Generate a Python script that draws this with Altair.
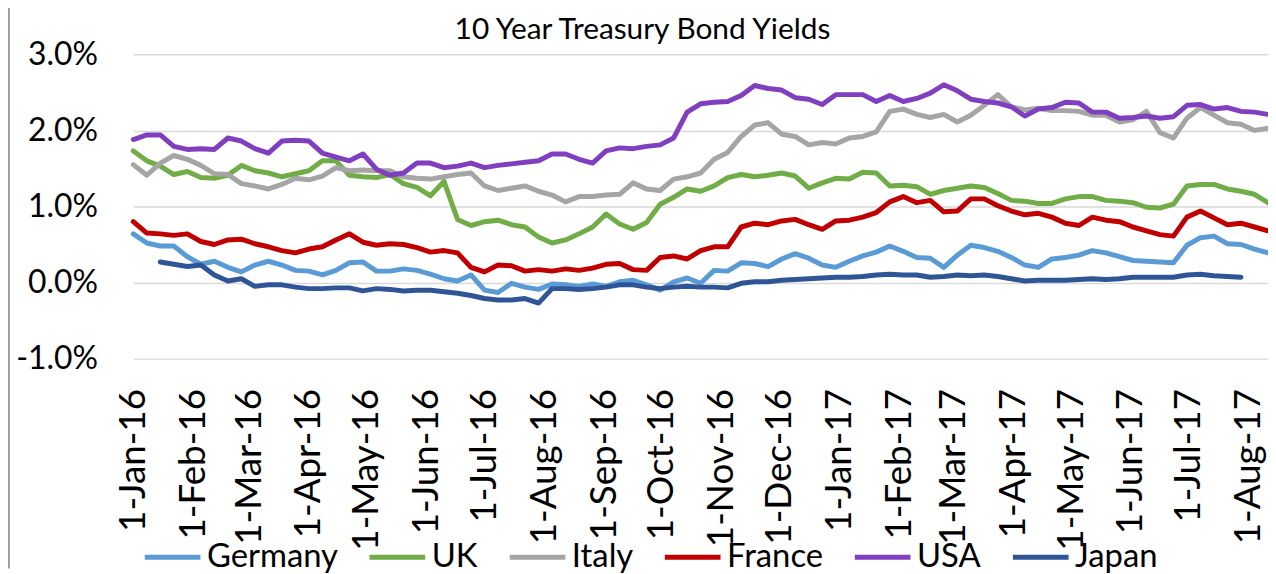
import altair as alt
import pandas as pd

# weekly sample dates (every 7 days from 1-Jan-2016)
dates = pd.date_range("2016-01-01", periods=85, freq="7D").strftime("%Y-%m-%d").tolist()

chart_title = "10 Year Treasury Bond Yields"
series_names = ["Germany", "UK", "Italy", "France", "USA", "Japan"]
series_colors = ["#5B9BD5", "#70AD47", "#A5A5A5", "#C00000", "#7F3FBF", "#2F5597"]

germany = [0.64, 0.52, 0.48, 0.48, 0.34, 0.24, 0.28, 0.20, 0.14, 0.23,
           0.28, 0.23, 0.16, 0.15, 0.10, 0.16, 0.26, 0.27, 0.15, 0.15,
           0.18, 0.16, 0.11, 0.05, 0.02, 0.10, -0.10, -0.13, -0.01, -0.06,
           -0.09, -0.02, -0.03, -0.05, -0.02, -0.05, 0.01, 0.03, -0.03, -0.10,
           0.01, 0.06, -0.01, 0.16, 0.15, 0.26, 0.25, 0.21, 0.31, 0.38,
           0.32, 0.23, 0.20, 0.28, 0.35, 0.40, 0.48, 0.41, 0.33, 0.32,
           0.20, 0.36, 0.49, 0.46, 0.41, 0.33, 0.23, 0.20, 0.31, 0.33,
           0.36, 0.42, 0.39, 0.34, 0.29, 0.28, 0.27, 0.26, 0.49, 0.59,
           0.61, 0.51, 0.50, 0.44, 0.39]
uk = [1.73, 1.60, 1.53, 1.42, 1.46, 1.38, 1.37, 1.41, 1.54, 1.47,
      1.44, 1.39, 1.43, 1.47, 1.60, 1.60, 1.41, 1.39, 1.38, 1.42,
      1.30, 1.25, 1.14, 1.33, 0.83, 0.75, 0.80, 0.82, 0.76, 0.73,
      0.60, 0.52, 0.56, 0.64, 0.73, 0.90, 0.77, 0.70, 0.79, 1.03,
      1.12, 1.23, 1.20, 1.27, 1.38, 1.42, 1.39, 1.41, 1.44, 1.40,
      1.24, 1.31, 1.37, 1.36, 1.45, 1.44, 1.27, 1.28, 1.26, 1.16,
      1.21, 1.24, 1.27, 1.25, 1.17, 1.08, 1.07, 1.04, 1.04, 1.10,
      1.13, 1.13, 1.08, 1.07, 1.05, 0.99, 0.98, 1.03, 1.27, 1.29,
      1.29, 1.23, 1.20, 1.16, 1.05]
italy = [1.55, 1.41, 1.57, 1.67, 1.62, 1.54, 1.43, 1.42, 1.30, 1.27,
         1.23, 1.29, 1.37, 1.35, 1.40, 1.51, 1.47, 1.48, 1.47, 1.47,
         1.39, 1.37, 1.36, 1.39, 1.42, 1.44, 1.27, 1.21, 1.24, 1.27,
         1.20, 1.15, 1.06, 1.13, 1.13, 1.15, 1.16, 1.31, 1.23, 1.21,
         1.36, 1.39, 1.44, 1.62, 1.71, 1.92, 2.07, 2.10, 1.95, 1.92,
         1.81, 1.84, 1.82, 1.90, 1.92, 1.98, 2.25, 2.28, 2.21, 2.17,
         2.21, 2.11, 2.20, 2.33, 2.47, 2.31, 2.27, 2.29, 2.26, 2.26,
         2.25, 2.20, 2.20, 2.11, 2.14, 2.25, 1.97, 1.90, 2.16, 2.30,
         2.20, 2.10, 2.08, 2.00, 2.03]
france = [0.80, 0.65, 0.64, 0.62, 0.64, 0.54, 0.50, 0.56, 0.57, 0.51,
          0.47, 0.42, 0.39, 0.44, 0.47, 0.56, 0.64, 0.53, 0.49, 0.51,
          0.50, 0.46, 0.40, 0.42, 0.39, 0.20, 0.14, 0.23, 0.22, 0.15,
          0.17, 0.15, 0.18, 0.16, 0.19, 0.24, 0.25, 0.17, 0.16, 0.33,
          0.35, 0.31, 0.42, 0.47, 0.47, 0.73, 0.78, 0.76, 0.81, 0.83,
          0.76, 0.70, 0.81, 0.82, 0.86, 0.92, 1.06, 1.13, 1.05, 1.08,
          0.93, 0.94, 1.10, 1.10, 1.01, 0.94, 0.89, 0.91, 0.86, 0.78,
          0.75, 0.86, 0.82, 0.80, 0.73, 0.68, 0.63, 0.61, 0.86, 0.94,
          0.85, 0.76, 0.78, 0.73, 0.68]
usa = [1.88, 1.94, 1.94, 1.79, 1.75, 1.76, 1.75, 1.90, 1.86, 1.76,
       1.70, 1.86, 1.87, 1.86, 1.70, 1.65, 1.60, 1.69, 1.49, 1.41,
       1.44, 1.57, 1.57, 1.51, 1.53, 1.57, 1.51, 1.54, 1.56, 1.58,
       1.60, 1.69, 1.69, 1.62, 1.57, 1.73, 1.77, 1.76, 1.79, 1.81,
       1.90, 2.24, 2.35, 2.37, 2.38, 2.46, 2.59, 2.55, 2.53, 2.43,
       2.41, 2.34, 2.47, 2.47, 2.47, 2.38, 2.46, 2.38, 2.42, 2.49,
       2.60, 2.52, 2.41, 2.38, 2.36, 2.31, 2.19, 2.28, 2.30, 2.37,
       2.36, 2.24, 2.24, 2.16, 2.17, 2.19, 2.16, 2.18, 2.33, 2.34,
       2.28, 2.30, 2.25, 2.24, 2.21]
japan = [None, None, 0.27, 0.24, 0.21, 0.23, 0.10, 0.02, 0.05, -0.05,
         -0.03, -0.03, -0.06, -0.08, -0.08, -0.07, -0.07, -0.11, -0.08, -0.09,
         -0.11, -0.10, -0.10, -0.12, -0.14, -0.17, -0.21, -0.23, -0.23, -0.21,
         -0.27, -0.08, -0.08, -0.09, -0.08, -0.06, -0.03, -0.03, -0.06, -0.08,
         -0.06, -0.05, -0.06, -0.06, -0.07, -0.01, 0.01, 0.01, 0.03, 0.04,
         0.05, 0.06, 0.07, 0.07, 0.08, 0.10, 0.11, 0.10, 0.10, 0.07,
         0.08, 0.10, 0.09, 0.10, 0.08, 0.05, 0.02, 0.03, 0.03, 0.03,
         0.04, 0.05, 0.04, 0.05, 0.07, 0.07, 0.07, 0.07, 0.10, 0.11,
         0.09, 0.08, 0.07, None, None]

tick_months = [(2016, m) for m in range(1, 13)] + [(2017, m) for m in range(1, 9)]
y_ticks = [-1, 0, 1, 2, 3]

values_by_series = [germany, uk, italy, france, usa, japan]
rows = []
for name, vals in zip(series_names, values_by_series):
    for d, v in zip(dates, vals):
        if v is not None:
            rows.append({"date": d, "series": name, "value": v})
df = pd.DataFrame(rows)

FONT = "Lato"

lines = alt.Chart(df).mark_line(strokeWidth=5, strokeJoin="round", strokeCap="round").encode(
    x=alt.X(
        "date:T",
        scale=alt.Scale(
            type="utc",
            domain=[alt.DateTime(year=2016, month=1, date=1, utc=True),
                    alt.DateTime(year=2017, month=8, date=11, utc=True)],
        ),
        axis=alt.Axis(
            title=None,
            values=[alt.DateTime(year=y, month=m, date=1, utc=True) for y, m in tick_months],
            labelExpr="utcFormat(datum.value, '%-d-%b-%y')",
            labelAngle=270,
            labelFont=FONT,
            labelFontSize=37,
            labelColor="#000000",
            labelPadding=30,
            labelOverlap=False,
            labelFlush=False,
            domain=False,
            ticks=False,
            grid=False,
        ),
    ),
    y=alt.Y(
        "value:Q",
        scale=alt.Scale(domain=[-1, 3], nice=False, zero=False),
        axis=alt.Axis(
            title=None,
            values=y_ticks,
            labelExpr="(datum.value < 0 ? '-' : '') + format(abs(datum.value), '.1f') + '%'",
            labelFont=FONT,
            labelFontSize=32,
            labelColor="#000000",
            labelPadding=36,
            domain=False,
            ticks=False,
            grid=True,
            gridColor="#D9D9D9",
            gridWidth=1.5,
        ),
    ),
    color=alt.Color(
        "series:N",
        sort=series_names,
        scale=alt.Scale(domain=series_names, range=series_colors),
        legend=alt.Legend(
            title=None,
            orient="none",
            direction="horizontal",
            legendX=9,
            legendY=475,
            symbolType="stroke",
            symbolSize=3136,
            symbolStrokeWidth=5,
            labelFont=FONT,
            labelFontSize=33,
            labelColor="#000000",
            labelOffset=4,
            columnPadding=21,
            padding=0,
        ),
    ),
    order=alt.Order("date:T"),
)

border = alt.Chart(pd.DataFrame({"k": [0]})).mark_rule(color="#404040", strokeWidth=1).encode(
    x=alt.value(-125), y=alt.value(-53), y2=alt.value(517)
)

title = alt.Chart(pd.DataFrame({"t": [chart_title]})).mark_text(
    font=FONT, fontSize=30, color="#000000", align="center", baseline="alphabetic"
).encode(text="t:N", x=alt.value(512), y=alt.value(-15))

chart = alt.layer(lines, border, title).properties(
    width=1141,
    height=306,
    autosize=alt.AutoSizeParams(type="none"),
    padding={"left": 126, "top": 45, "right": 0, "bottom": 215},
).configure_view(stroke=None)

chart.save("out.html", embed_options={"renderer": "svg", "actions": False})
